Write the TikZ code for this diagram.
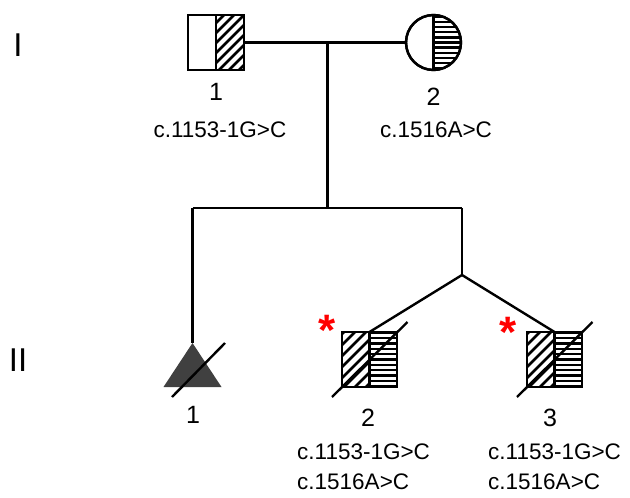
\documentclass[tikz,border=0pt]{standalone}
\usepackage{fontspec}
\setmainfont{Liberation Sans}
\usetikzlibrary{calc}
\begin{document}
\begin{tikzpicture}[x=1pt,y=-1pt,
  sym/.style={draw=black, line width=2.4pt, minimum width=55pt, minimum height=55pt, inner sep=0pt, outer sep=0pt, fill=white},
  hatch/.style={line width=2.7pt},
  hline/.style={line width=2.3pt},
  conn/.style={line width=2.4pt},
  lbl/.style={font=\fontsize{22.5}{25}\selectfont, inner sep=0pt},
  num/.style={font=\fontsize{25}{28}\selectfont, inner sep=0pt},
  gen/.style={font=\fontsize{33}{36}\selectfont, inner sep=0pt},
  star/.style={text=red, font=\bfseries\fontsize{44}{48}\selectfont, inner sep=0pt, anchor=base}
]
\useasboundingbox (0,0) rectangle (630,498);
\fill[white] (0,0) rectangle (630,498);

% generation labels
\node[gen] (g1) at (18,45) {I};
\node[gen] (g2) at (18,360) {II};

% connectors
\coordinate (mc) at (327.5,42.5);
\coordinate (sib) at (327.5,208);
\coordinate (sl) at (192.5,208);
\coordinate (sr) at (462,208);
\coordinate (tw) at (462,275);
\coordinate (t) at (192.5,343);

% parents
\node[sym, minimum width=56pt] (f) at (216,42.5) {};
\node[sym, circle, minimum size=55pt] (m) at (433.5,42.5) {};

\draw[conn] (f.east) -- (m.west);
\draw[conn] (mc) -- (sib);
\draw[conn] (sl) -- (sr);
\draw[conn] (sl) -- (t);
\draw[conn] (sr) -- (tw);

% father hatch
\begin{scope}
\clip (f.north) rectangle (f.south east);
\foreach \k in {-7,...,3} \draw[hatch] ($(f.south)+(\k*10pt+3pt,0)$) -- ++(60pt,60pt);
\end{scope}
\draw[line width=2.4pt] (f.south west) rectangle (f.north east);
\draw[line width=2.4pt] (f.north) -- (f.south);

% mother hatch
\begin{scope}
\clip (m.center) circle[radius=27.5pt];
\clip (m.north) rectangle ($(m.south)+(30pt,0)$);
\foreach \k in {-5,...,5} \draw[hline] ($(m.center)+(-30pt,\k*5.1pt)$) -- ++(60pt,0);
\end{scope}
\draw[line width=2.4pt] (m.center) circle[radius=27.5pt];
\draw[line width=2.4pt] (m.north) -- (m.south);

% children
\node[sym] (c2) at (369.5,359.5) {};
\node[sym] (c3) at (554.5,359.5) {};
\draw[conn] (tw) -- (c2.north);
\draw[conn] (tw) -- (c3.north);

\foreach \c in {c2,c3}{
  \begin{scope}
  \clip (\c.north west) rectangle (\c.south);
  \foreach \k in {-7,...,3} \draw[hatch] ($(\c.south west)+(\k*11pt+2pt,0)$) -- ++(60pt,60pt);
  \end{scope}
  \begin{scope}
  \clip (\c.north) rectangle (\c.south east);
  \foreach \k in {-5,...,5} \draw[hline] ($(\c.center)+(-30pt,\k*5.3pt)$) -- ++(60pt,0);
  \end{scope}
  \draw[line width=2.4pt] (\c.south west) rectangle (\c.north east);
  \draw[line width=2.4pt] (\c.north) -- (\c.south);
  \draw[conn] ($(\c.center)+(-37.5pt,-37.5pt)$) -- ($(\c.center)+(38pt,37.5pt)$);
}

% triangle (deceased, affected)
\fill[black!75] (t) -- ++(-29pt,-44pt) -- ++(58pt,0) -- cycle;
\draw[conn] (172,397) -- (225,343);

% asterisks
\node[star] (s2) at (327,345) {*};
\node[star] (s3) at (508,347) {*};

% labels
\node[num] (n1) at (216,92) {1};
\node[num] (n2) at (433.5,97) {2};
\node[lbl] (v1) at (220,130) {c.1153-1G>C};
\node[lbl] (v2) at (436,130) {c.1516A>C};

\node[num] (n3) at (193,415) {1};
\node[num] (n4) at (368,418) {2};
\node[num] (n5) at (550,418) {3};
\node[lbl, anchor=west] (v3) at (297,452) {c.1153-1G>C};
\node[lbl, anchor=west] (v4) at (297,482) {c.1516A>C};
\node[lbl, anchor=west] (v5) at (488,452) {c.1153-1G>C};
\node[lbl, anchor=west] (v6) at (488,482) {c.1516A>C};
\end{tikzpicture}
\end{document}
